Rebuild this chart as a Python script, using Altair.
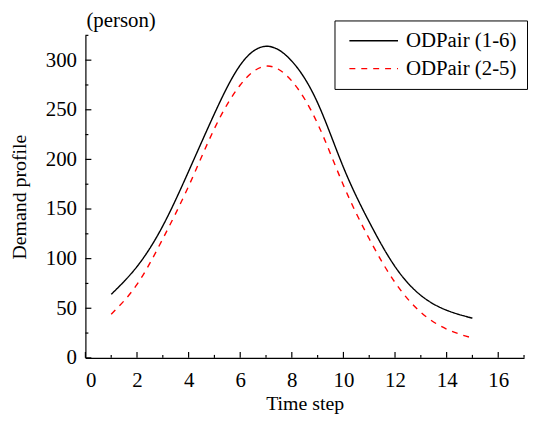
import altair as alt
import pandas as pd

# ---- data ----
steps = list(range(1, 16))
od_1_6 = [64, 92, 133, 188, 246, 295, 314, 299, 257, 192, 137, 92, 63, 48, 40]
od_2_5 = [44, 74, 120, 173, 231, 275, 294, 279, 236, 174, 120, 76, 46, 29, 20]
series_names = ["ODPair (1-6)", "ODPair (2-5)"]
series_colors = ["#000000", "#ff0000"]
series_dash = [[1, 0], [6, 6]]
unit_label = ["(person)"]

x_major = [0, 2, 4, 6, 8, 10, 12, 14, 16]
x_minor = [1, 3, 5, 7, 9, 11, 13, 15, 17]
y_major = [0, 50, 100, 150, 200, 250, 300]
y_minor = [25, 75, 125, 175, 225, 275, 325]

W, H = 442, 325
FONT = "Liberation Serif, Times New Roman, serif"

rows = []
for s, vals in zip(series_names, [od_1_6, od_2_5]):
    for t, v in zip(steps, vals):
        rows.append({"step": t, "demand": v, "series": s})
df = pd.DataFrame(rows)

xs = alt.Scale(domain=[0, 17], nice=False, zero=False)
ys = alt.Scale(domain=[0, 325], nice=False, zero=False)

legend = alt.Legend(title=None, orient="none", legendX=251, legendY=-15,
                    strokeColor="black", fillColor="white",
                    padding=10, symbolType="stroke", symbolSize=2400,
                    symbolStrokeWidth=1.4, labelFont=FONT, labelFontWeight="normal",
                    labelFontSize=21, labelColor="black", clipHeight=21,
                    labelOffset=7, rowPadding=6, symbolOffset=4)

lines = alt.Chart(df).mark_line(strokeWidth=1.4, interpolate="natural").encode(
    x=alt.X("step:Q", scale=xs, title="Time step",
            axis=alt.Axis(values=x_major, ticks=False, grid=False, domain=True,
                          domainColor="black", domainWidth=1.2,
                          labelFont=FONT, labelFontSize=21, labelColor="black",
                          labelFontWeight="normal",
                          labelPadding=12, titleFont=FONT, titleFontSize=20,
                          titleFontWeight="normal", titleColor="black",
                          titlePadding=3)),
    y=alt.Y("demand:Q", scale=ys, title="Demand profile",
            axis=alt.Axis(values=y_major, ticks=False, grid=False, domain=True,
                          domainColor="black", domainWidth=1.2,
                          labelFont=FONT, labelFontSize=21, labelColor="black",
                          labelFontWeight="normal",
                          labelPadding=9, titleFont=FONT, titleFontSize=20,
                          titleFontWeight="normal", titleColor="black",
                          titlePadding=16)),
    color=alt.Color("series:N", scale=alt.Scale(domain=series_names, range=series_colors),
                    legend=legend),
    strokeDash=alt.StrokeDash("series:N", scale=alt.Scale(domain=series_names, range=series_dash),
                              legend=legend),
)

def xticks(vals, length):
    return alt.Chart(pd.DataFrame({"v": vals})).mark_rule(color="black", strokeWidth=1.2).encode(
        x=alt.X("v:Q", scale=xs), y=alt.value(H), y2=alt.value(H - length))

def yticks(vals, length):
    return alt.Chart(pd.DataFrame({"v": vals})).mark_rule(color="black", strokeWidth=1.2).encode(
        y=alt.Y("v:Q", scale=ys), x=alt.value(0), x2=alt.value(length))

unit = alt.Chart(pd.DataFrame({"t": unit_label})).mark_text(
    font=FONT, fontSize=21, fontWeight="normal", color="black", align="left", baseline="middle"
).encode(text="t:N", x=alt.value(1), y=alt.value(-14))

chart = alt.layer(
    lines,
    xticks(x_major, 6), xticks(x_minor, 3),
    yticks(y_major, 6), yticks(y_minor, 3),
    unit,
).properties(
    width=W, height=H,
    autosize=alt.AutoSizeParams(type="none"),
    padding={"left": 78, "top": 26, "right": 4, "bottom": 55},
).configure(
    background="white", font=FONT
).configure_view(stroke=None).configure_axis(
    labelFont=FONT, titleFont=FONT
).configure_legend(labelFont=FONT)

chart.save("out.html", embed_options={"renderer": "svg", "actions": False})
